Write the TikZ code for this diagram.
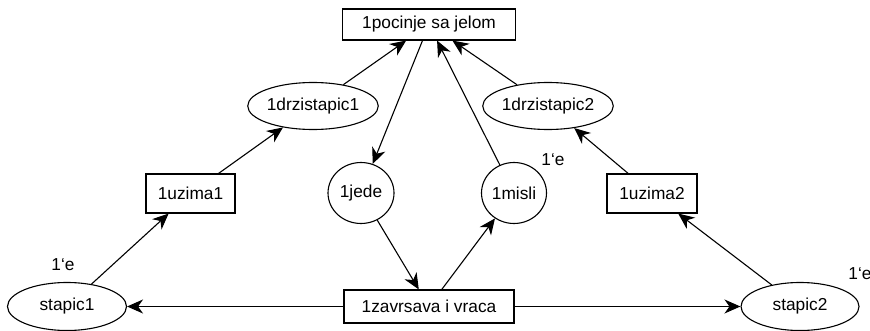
\documentclass[tikz,border=0pt]{standalone}
\usepackage{fontspec}
\setmainfont{Liberation Sans}
\usetikzlibrary{shapes.geometric,arrows.meta}
\begin{document}
\begin{tikzpicture}[x=1pt,y=-1pt,
  every node/.style={font=\fontsize{17.3}{19}\selectfont, inner sep=0pt},
  trans/.style={draw, line width=1.1pt, rectangle},
  place/.style={draw, line width=1.1pt, ellipse},
  arc/.style={line width=1.1pt, -{Stealth[length=16pt,width=14pt,inset=5pt]}},
  lbl/.style={}]
\useasboundingbox (0,0) rectangle (870,331);
\node[trans, minimum width=173pt, minimum height=31pt] (poc) at (429,24.5) {1pocinje sa jelom};
\node[place, minimum width=119pt, minimum height=47pt] (d1) at (313,106) {1drzistapic1};
\node[place, minimum width=119pt, minimum height=47pt] (d2) at (548,106) {1drzistapic2};
\node[place, minimum width=66pt, minimum height=61pt] (jede) at (361,193) {1jede};
\node[place, minimum width=65pt, minimum height=61pt] (misli) at (514,193) {1misli};
\node[trans, minimum width=89pt, minimum height=39pt] (u1) at (190.5,193.5) {1uzima1};
\node[trans, minimum width=90pt, minimum height=39pt] (u2) at (652,193.5) {1uzima2};
\node[trans, minimum width=170pt, minimum height=33pt] (zav) at (429,306.5) {1zavrsava i vraca};
\node[place, minimum width=119pt, minimum height=48pt] (s1) at (67,306.5) {stapic1};
\node[place, minimum width=118pt, minimum height=48pt] (s2) at (800,306.5) {stapic2};
\node[lbl] (e1) at (63,265) {1\symbol{96}e};
\node[lbl] (e2) at (553,160) {1\symbol{96}e};
\node[lbl] (e3) at (860,274) {1\symbol{96}e};
\draw[arc] (s1) -- (u1);
\draw[arc] (u1) -- (d1);
\draw[arc] (d1) -- (poc);
\draw[arc] (poc) -- (jede);
\draw[arc] (misli) -- (poc);
\draw[arc] (d2) -- (poc);
\draw[arc] (u2) -- (d2);
\draw[arc] (s2) -- (u2);
\draw[arc] (jede) -- (zav);
\draw[arc] (zav) -- (misli);
\draw[arc] (zav) -- (s1);
\draw[arc] (zav) -- (s2);
\end{tikzpicture}
\end{document}
